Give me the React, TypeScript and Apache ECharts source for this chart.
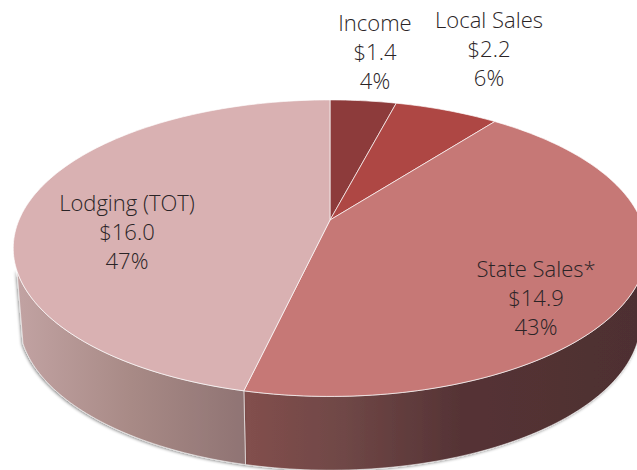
import React, { useEffect, useRef } from "react";
import * as echarts from "echarts";

const NAMES = ["Income", "Local Sales", "State Sales*", "Lodging (TOT)"];
const VALUES = [1.4, 2.2, 14.9, 16.0];
const PERCENTS = [4, 6, 43, 47];
const FACE_COLORS = ["#8d3b3b", "#ae4744", "#c67876", "#d9b1b2"];

const LABEL_X = [375, 489, 536, 127];
const LABEL_Y = [51, 48, 297, 231];

const WALL_STOPS: Record<number, { offset: number; color: string }[]> = {
  2: [
    { offset: 0, color: "#824f4d" },
    { offset: 0.25, color: "#6f4746" },
    { offset: 0.55, color: "#553335" },
    { offset: 1, color: "#4e2f31" },
  ],
  3: [
    { offset: 0, color: "#c2a3a3" },
    { offset: 0.5, color: "#a88a86" },
    { offset: 1, color: "#8f7373" },
  ],
};

const TOTAL = VALUES.reduce((a, b) => a + b, 0);
const CX = 330, APEX_Y = 220, K = 0.19, A = 311, B = 142.9;

function topPoint(theta: number): [number, number] {
  const u = Math.sin(theta), v = Math.cos(theta), d = 1 + K * v;
  return [CX + (A * u) / d, APEX_Y - (B * v) / d];
}
function bottomPoint(theta: number): [number, number] {
  const [x, y] = topPoint(theta);
  return [CX + (x - CX) * 0.981, 320 + (y - 248) * 1.012];
}
function arc(fn: (t: number) => [number, number], a: number, b: number) {
  const pts: [number, number][] = [];
  const n = Math.max(4, Math.ceil(Math.abs(b - a) / 0.02));
  for (let i = 0; i <= n; i++) pts.push(fn(a + ((b - a) * i) / n));
  return pts;
}

const renderItem = (params: any, api: any) => {
  const i = params.dataIndex;
  const before = VALUES.slice(0, i).reduce((a, b) => a + b, 0);
  const a0 = (before / TOTAL) * Math.PI * 2;
  const a1 = ((before + api.value(0)) / TOTAL) * Math.PI * 2;
  const children: any[] = [];
  const rightEdge = Math.acos(-K);
  const leftEdge = Math.PI * 2 - rightEdge - 0.15;
  const w0 = Math.max(a0, rightEdge), w1 = Math.min(a1, leftEdge);
  if (w1 > w0 && WALL_STOPS[i]) {
    const x0 = i === 3 ? 15 : 247;
    const x2 = i === 3 ? 247 : 637;
    children.push({
      type: "polygon",
      shape: { points: [...arc(topPoint, w0, w1), ...arc(bottomPoint, w1, w0)] },
      style: {
        fill: { type: "linear", x: x0, y: 0, x2, y2: 0, global: true, colorStops: WALL_STOPS[i] },
        stroke: "rgba(255,255,255,0.7)",
        lineWidth: 0.8,
        shadowColor: "rgba(0,0,0,0.45)",
        shadowBlur: 3,
        shadowOffsetX: -1,
        shadowOffsetY: 1,
      },
    });
  }
  children.push({
    type: "polygon",
    shape: { points: [[CX, APEX_Y], ...arc(topPoint, a0, a1)] },
    style: { fill: FACE_COLORS[i], stroke: "rgba(255,255,255,0.75)", lineWidth: 0.9, lineJoin: "round" },
  });
  children.push({
    type: "text",
    style: {
      text: `${NAMES[i]}\n$${api.value(0).toFixed(1)}\n${PERCENTS[i]}%`,
      x: LABEL_X[i],
      y: LABEL_Y[i],
      align: "center",
      verticalAlign: "middle",
      fill: "#2a2426",
      font: '300 22px "Open Sans"',
      lineHeight: 29,
    },
  });
  return { type: "group", children };
};

export default function App() {
  const ref = useRef<HTMLDivElement>(null);
  useEffect(() => {
    const chart = echarts.init(ref.current!, undefined, { renderer: "svg" });
    chart.setOption({
      animation: false,
      backgroundColor: "#ffffff",
      series: [
        {
          type: "custom",
          coordinateSystem: "none",
          renderItem,
          clip: false,
          data: VALUES.map((v, i) => ({ name: NAMES[i], value: [v] })),
        },
      ],
    });
    return () => chart.dispose();
  }, []);
  return <div ref={ref} style={{ position: "fixed", left: 0, top: 0, width: 637, height: 470 }} />;
}
